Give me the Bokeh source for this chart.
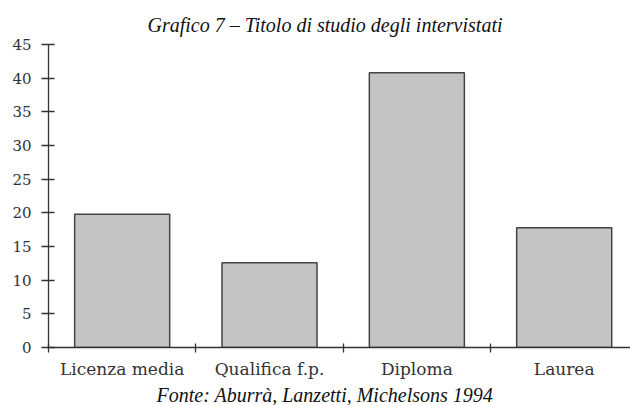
from bokeh.plotting import figure
from bokeh.models import Range1d, FixedTicker, LinearAxis, Title
from bokeh.embed import file_html
from bokeh.resources import INLINE

categories = ["Licenza media", "Qualifica f.p.", "Diploma", "Laurea"]
values = [19.8, 12.6, 40.8, 17.8]
y_ticks = [0, 5, 10, 15, 20, 25, 30, 35, 40, 45]
title_text = "Grafico 7 \u2013 Titolo di studio degli intervistati"
source_text = "Fonte: Aburr\u00e0, Lanzetti, Michelsons 1994"

x_pos = [i + 0.5 for i in range(len(categories))]
boundaries = [float(i) for i in range(len(categories))]

p = figure(width=630, height=405, output_backend="svg", toolbar_location=None,
           x_range=Range1d(0, 3.95), y_range=Range1d(0, 45),
           x_axis_location=None, y_axis_location=None,
           min_border_left=48, min_border_right=0, min_border_top=44, min_border_bottom=58)
p.outline_line_color = None
p.xgrid.visible = False
p.ygrid.visible = False

p.vbar(x=x_pos, top=values, bottom=0, width=0.645, fill_color="#c3c4c6",
       line_color="#444444", line_width=1.5)

axis_color = "#333333"
tick_font = "DejaVu Serif"

yaxis = LinearAxis(ticker=FixedTicker(ticks=y_ticks))
yaxis.axis_line_color = axis_color
yaxis.axis_line_width = 1.3
yaxis.major_tick_line_color = axis_color
yaxis.major_tick_line_width = 1.3
yaxis.major_tick_in = 6
yaxis.major_tick_out = 7
yaxis.minor_tick_line_color = None
yaxis.major_label_text_font = tick_font
yaxis.major_label_text_font_size = "15px"
yaxis.major_label_text_color = "#333333"
yaxis.major_label_standoff = 10
p.add_layout(yaxis, "left")

xaxis = LinearAxis(ticker=FixedTicker(ticks=x_pos, minor_ticks=boundaries))
xaxis.major_label_overrides = {x: c for x, c in zip(x_pos, categories)}
xaxis.axis_line_color = axis_color
xaxis.axis_line_width = 1.3
xaxis.major_tick_line_color = None
xaxis.minor_tick_line_color = axis_color
xaxis.minor_tick_line_width = 1.3
xaxis.minor_tick_in = 4
xaxis.minor_tick_out = 5
xaxis.major_tick_in = 0
xaxis.major_tick_out = 5
xaxis.major_label_text_font = tick_font
xaxis.major_label_text_font_size = "17px"
xaxis.major_label_text_color = "#333333"
xaxis.major_label_standoff = 6
p.add_layout(xaxis, "below")

p.title = Title(text=title_text, align="left", offset=99, standoff=18,
                text_font="Liberation Serif", text_font_style="italic",
                text_font_size="20px", text_color="#111111")
p.add_layout(Title(text=source_text, align="left", offset=108, standoff=0,
                   text_font="Liberation Serif", text_font_style="italic",
                   text_font_size="20px", text_color="#111111"), "below")

open("out.html", "w").write(file_html(p, INLINE))
